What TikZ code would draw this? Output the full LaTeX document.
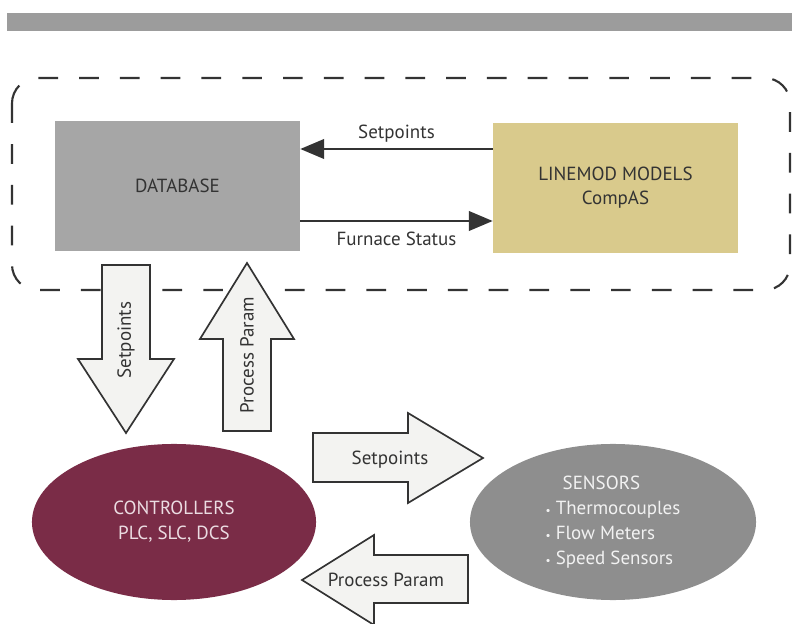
\documentclass[tikz,border=0pt]{standalone}
\usepackage{fontspec}
\setmainfont{PT Sans}
\usepackage{tikz}
\usetikzlibrary{arrows.meta, shapes.geometric}

\definecolor{bargray}{HTML}{9C9C9C}
\definecolor{dbgray}{HTML}{A6A6A6}
\definecolor{modelkhaki}{HTML}{D9CA8C}
\definecolor{ctrlred}{HTML}{7A2C47}
\definecolor{sensgray}{HTML}{8E8E8E}
\definecolor{blockfill}{HTML}{F3F3F1}
\definecolor{inkgray}{HTML}{333333}

\begin{document}
\begin{tikzpicture}[x=0.025cm, y=-0.025cm, >={Triangle[length=17pt, width=14pt]},
    box/.style={draw=none, inner sep=0pt, font=\fontsize{13.5}{17}\selectfont, text=inkgray},
    oval/.style={ellipse, draw=none, inner sep=0pt, font=\fontsize{13.5}{17.7}\selectfont},
    flow/.style={->, line width=1.4pt, draw=inkgray},
    blockarrow/.style={draw=inkgray, line width=1.2pt, fill=blockfill, line join=miter},
    lbl/.style={font=\fontsize{13.5}{16}\selectfont, text=inkgray, inner sep=1pt}]
    \useasboundingbox (0,0) rectangle (792,624);

    % Balken oben
    \fill[bargray] (7,13) rectangle (792,31);

    % Gestrichelter Rahmen
    \draw[inkgray, line width=1.5pt, dash pattern=on 14pt off 15pt, rounded corners=18pt]
        (12,78) rectangle (790,290);

    % Kaesten
    \node[box, fill=dbgray, minimum width=6.125cm, minimum height=3.225cm] (db) at (177.5,186) {DATABASE};
    \node[box, fill=modelkhaki, minimum width=6.125cm, minimum height=3.25cm, align=center] (model) at (615.5,188)
        {LINEMOD MODELS\\CompAS};

    % Pfeile zwischen den Kaesten
    \draw[flow] (model.west |- 0,149) -- node[lbl, above=3pt] (spt) {Setpoints} (db.east |- 0,149);
    \draw[flow] (db.east |- 0,221) -- node[lbl, below=6pt] (fst) {Furnace Status} (model.west |- 0,221);

    % Ellipsen
    \node[oval, fill=ctrlred, minimum width=7.1cm, minimum height=3.9cm, align=center,
          text={rgb,255:red,235;green,220;blue,226}] (ctrl) at (174,522)
        {CONTROLLERS\\PLC, SLC, DCS};
    \node[oval, fill=sensgray, minimum width=7.15cm, minimum height=3.9cm, align=left,
          text={rgb,255:red,242;green,242;blue,242}] (sens) at (613,522)
        {\hspace*{0.9em}\hfill SENSORS\hfill\null\\{\footnotesize\textbullet} Thermocouples\\
         {\footnotesize\textbullet} Flow Meters\\{\footnotesize\textbullet} Speed Sensors};

    % Blockpfeile senkrecht
    \draw[blockarrow] (102,265) -- (150,265) -- (150,359) -- (174,359) -- (126,433)
        -- (78,359) -- (102,359) -- cycle;
    \node[lbl, rotate=90] (dsp) at (126,340) {Setpoints};
    \draw[blockarrow] (223,431) -- (271,431) -- (271,339) -- (294,339) -- (247,263)
        -- (200,339) -- (223,339) -- cycle;
    \node[lbl, rotate=90] (upp) at (247,355) {Process Param};

    % Blockpfeile waagrecht
    \draw[blockarrow] (313,433) -- (408,433) -- (408,413) -- (483,458) -- (408,503)
        -- (408,482) -- (313,482) -- cycle;
    \node[lbl] (rsp) at (390,460) {Setpoints};
    \draw[blockarrow] (468,555) -- (374,555) -- (374,535) -- (302,580) -- (374,625)
        -- (374,603) -- (468,603) -- cycle;
    \node[lbl] (lpp) at (386,580) {Process Param};
\end{tikzpicture}
\end{document}
